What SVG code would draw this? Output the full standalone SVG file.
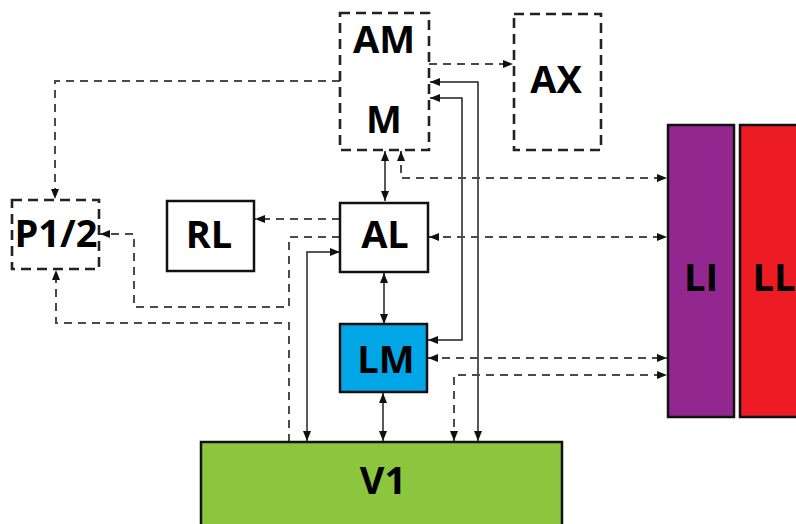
<svg xmlns="http://www.w3.org/2000/svg" width="796" height="524" viewBox="0 0 796 524">
  <defs>
    <style>
      .box { stroke: #111; stroke-width: 2.5; }
      .dbox { fill: #fff; stroke: #222; stroke-width: 2.6; stroke-dasharray: 10 6; }
      .lbl { font-family: "Open Sans", "Liberation Sans", sans-serif; font-weight: bold; font-size: 38px; fill: #000; text-anchor: middle; }
      .dash { fill: none; stroke: #4a4a4a; stroke-width: 2; stroke-dasharray: 8 6; }
      .solid { fill: none; stroke: #222; stroke-width: 1.5; }
    </style>
    <marker id="ah" viewBox="0 0 10 8" refX="10" refY="4" markerWidth="10" markerHeight="8" markerUnits="userSpaceOnUse" orient="auto-start-reverse">
      <path d="M0,0 L10,4 L0,8 z" fill="#111"/>
    </marker>
  </defs>
  <rect width="796" height="524" fill="#fff"/>

  <g id="connectors">
    <path class="dash" d="M340,81 H55 V199" marker-end="url(#ah)"/>
    <path class="dash" d="M429,64 H513" marker-end="url(#ah)"/>
    <path class="solid" d="M478,441 V82 H430" marker-start="url(#ah)" marker-end="url(#ah)"/>
    <path class="solid" d="M430,98 H462 V340 H428" marker-start="url(#ah)" marker-end="url(#ah)"/>
    <path class="solid" d="M385,151 V201" marker-start="url(#ah)" marker-end="url(#ah)"/>
    <path class="dash" d="M401,151 V178 H667" marker-start="url(#ah)" marker-end="url(#ah)"/>
    <path class="dash" d="M429,237 H667" marker-start="url(#ah)" marker-end="url(#ah)"/>
    <path class="dash" d="M340,219 H255" marker-end="url(#ah)"/>
    <path class="dash" d="M340,237 H289 V307 H134 V234 H100" marker-end="url(#ah)"/>
    <path class="dash" d="M289,442 V323 H56 V270" marker-end="url(#ah)"/>
    <path class="solid" d="M340,252 H307 V441" marker-start="url(#ah)" marker-end="url(#ah)"/>
    <path class="solid" d="M384,273 V324" marker-start="url(#ah)" marker-end="url(#ah)"/>
    <path class="solid" d="M383,393 V441" marker-start="url(#ah)" marker-end="url(#ah)"/>
    <path class="dash" d="M428,358 H667" marker-start="url(#ah)" marker-end="url(#ah)"/>
    <path class="dash" d="M454,441 V375 H667" marker-start="url(#ah)" marker-end="url(#ah)"/>
  </g>

  <g id="node-AM">
    <rect class="dbox" x="340" y="13" width="89" height="137" fill-opacity="0"/>
    <text class="lbl" x="384" y="53">AM</text>
    <text class="lbl" x="384" y="133">M</text>
  </g>
  <g id="node-AX">
    <rect class="dbox" x="514" y="14" width="87" height="136"/>
    <text class="lbl" x="556" y="93">AX</text>
  </g>
  <g id="node-P12">
    <rect class="dbox" x="12" y="200" width="87" height="69"/>
    <text class="lbl" x="56" y="247">P1/2</text>
  </g>
  <g id="node-RL">
    <rect class="box" x="167" y="201" width="87" height="70" fill="#fff"/>
    <text class="lbl" x="209" y="248">RL</text>
  </g>
  <g id="node-AL">
    <rect class="box" x="340" y="203" width="88" height="69" fill="#fff"/>
    <text class="lbl" x="385" y="248">AL</text>
  </g>
  <g id="node-LM">
    <rect class="box" x="340" y="324" width="87" height="68" fill="#00a6e6"/>
    <text class="lbl" x="386" y="373">LM</text>
  </g>
  <g id="node-V1">
    <rect class="box" x="201" y="442" width="361" height="100" fill="#8cc63f"/>
    <text class="lbl" x="383" y="494">V1</text>
  </g>
  <g id="node-LI">
    <rect class="box" x="668" y="125" width="66" height="292" fill="#92278f"/>
    <text class="lbl" x="701" y="291">LI</text>
  </g>
  <g id="node-LL">
    <rect class="box" x="740" y="125" width="70" height="292" fill="#ed1c24"/>
    <text class="lbl" x="774" y="291">LL</text>
  </g>
</svg>
